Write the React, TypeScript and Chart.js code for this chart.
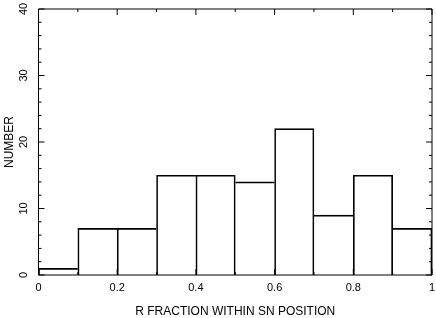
import { useEffect, useRef } from 'react';
import { Chart, registerables } from 'chart.js';

Chart.register(...registerables);

const binStarts = [0, 0.1, 0.2, 0.3, 0.4, 0.5, 0.6, 0.7, 0.8, 0.9];
const binWidth = 0.1;
const counts = [1, 7, 7, 15, 15, 14, 22, 9, 15, 7];
const xTicks = [0, 0.2, 0.4, 0.6, 0.8, 1];
const xTickLabels = ['0', '0.2', '0.4', '0.6', '0.8', '1'];
const yTicks = [0, 10, 20, 30, 40];
const yTickLabels = ['0', '10', '20', '30', '40'];
const xMinorStep = 0.1;
const yMinorStep = 2;
const xTitle = 'R FRACTION WITHIN SN POSITION';
const yTitle = 'NUMBER';

const FONT = 'Arial, "Liberation Sans", sans-serif';

const framePlugin = {
  id: 'frameTicks',
  afterDraw(chart: any) {
    const { ctx, chartArea, scales } = chart;
    const { left, right, top, bottom } = chartArea;
    const x = scales.x;
    const y = scales.y;
    ctx.save();
    ctx.strokeStyle = '#000';
    ctx.lineWidth = 1;
    const line = (x1: number, y1: number, x2: number, y2: number) => {
      ctx.beginPath();
      ctx.moveTo(x1, y1);
      ctx.lineTo(x2, y2);
      ctx.stroke();
    };
    line(left, top, right, top);
    line(left, bottom, right, bottom);
    line(left, top, left, bottom);
    line(right, top, right, bottom);
    const nx = Math.round((x.max - x.min) / xMinorStep);
    for (let i = 0; i <= nx; i++) {
      const v = x.min + i * xMinorStep;
      const px = x.getPixelForValue(v);
      const major = xTicks.some((t) => Math.abs(t - v) < 1e-6);
      const len = major ? 6 : 3;
      line(px, bottom, px, bottom - len);
      line(px, top, px, top + len);
    }
    const ny = Math.round((y.max - y.min) / yMinorStep);
    for (let i = 0; i <= ny; i++) {
      const v = y.min + i * yMinorStep;
      const py = y.getPixelForValue(v);
      const major = yTicks.includes(v);
      const len = major ? 6 : 3;
      line(left, py, left + len, py);
      line(right, py, right - len, py);
    }
    ctx.fillStyle = '#000';
    ctx.font = '11px ' + FONT;
    ctx.textAlign = 'center';
    ctx.textBaseline = 'middle';
    yTicks.forEach((t, i) => {
      const py = y.getPixelForValue(t);
      ctx.save();
      ctx.translate(24, py);
      ctx.rotate(-Math.PI / 2);
      ctx.fillText(yTickLabels[i], 0, 0);
      ctx.restore();
    });
    ctx.restore();
  },
};

export default function App() {
  const ref = useRef<HTMLCanvasElement | null>(null);
  useEffect(() => {
    if (!ref.current) return;
    const data = binStarts.map((s, i) => ({ x: s + binWidth / 2, y: counts[i] }));
    const chart = new Chart(ref.current, {
      type: 'bar',
      data: {
        datasets: [
          {
            data: data as any,
            backgroundColor: 'rgba(0,0,0,0)',
            borderColor: '#000',
            borderSkipped: 'start',
            borderWidth: ((ctx: any) => {
              const i = ctx.dataIndex;
              const prev = i > 0 ? counts[i - 1] : -1;
              const next = i < counts.length - 1 ? counts[i + 1] : -1;
              return {
                top: 1,
                bottom: 0,
                left: counts[i] >= prev ? 1 : 0,
                right: counts[i] > next ? 1 : 0,
              };
            }) as any,
            barPercentage: 1,
            categoryPercentage: 1,
          },
        ],
      },
      options: {
        animation: false,
        responsive: false,
        maintainAspectRatio: false,
        layout: { padding: { top: 9, right: 4, left: 0, bottom: 0 } },
        plugins: { legend: { display: false }, tooltip: { enabled: false } },
        scales: {
          x: {
            type: 'linear',
            min: 0,
            max: 1,
            offset: false,
            grid: { display: false, drawTicks: false },
            border: { display: false },
            afterFit: (s: any) => {
              s.height = 43;
              s.paddingLeft = 0;
              s.paddingRight = 0;
            },
            afterBuildTicks: (s: any) => {
              s.ticks = xTicks.map((v) => ({ value: v }));
            },
            ticks: {
              color: '#000',
              padding: 6,
              maxRotation: 0,
              autoSkip: false,
              font: { family: FONT, size: 11 },
              callback: (v: any) => {
                const i = xTicks.findIndex((t) => Math.abs(t - Number(v)) < 1e-6);
                return i >= 0 ? xTickLabels[i] : '';
              },
            },
            title: {
              display: true,
              text: xTitle,
              color: '#000',
              font: { family: FONT, size: 12, lineHeight: 1 },
              padding: { top: 0, bottom: 0 },
            },
          },
          y: {
            type: 'linear',
            min: 0,
            max: 40,
            grid: { display: false, drawTicks: false },
            border: { display: false },
            afterFit: (s: any) => {
              s.width = 38.5;
              s.paddingTop = 0;
              s.paddingBottom = 0;
            },
            afterBuildTicks: (s: any) => {
              s.ticks = yTicks.map((v) => ({ value: v }));
            },
            ticks: { display: false },
            title: {
              display: true,
              text: yTitle,
              color: '#000',
              font: { family: FONT, size: 12, lineHeight: 1 },
              padding: { top: 4, bottom: 0 },
            },
          },
        },
      },
      plugins: [framePlugin],
    });
    return () => chart.destroy();
  }, []);
  return (
    <div style={{ position: 'fixed', left: 0, top: 0, width: 436, height: 318, background: '#fff' }}>
      <canvas ref={ref} width={436} height={318} style={{ width: 436, height: 318 }} />
    </div>
  );
}
